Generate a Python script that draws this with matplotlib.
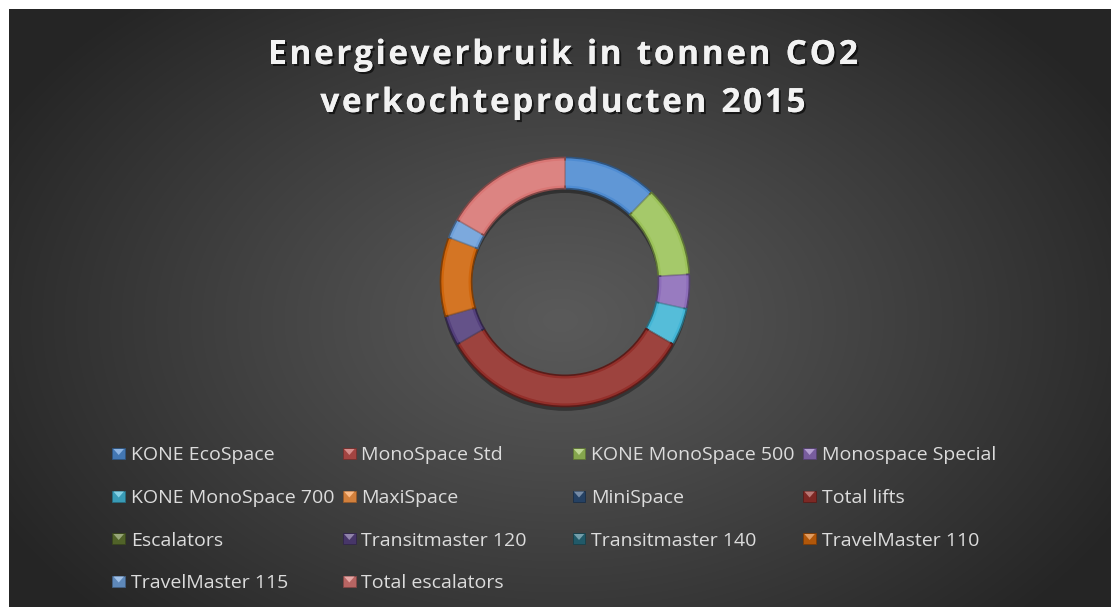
import numpy as np
import matplotlib
matplotlib.use("Agg")
import matplotlib.pyplot as plt
from matplotlib.patches import Rectangle, Polygon
import matplotlib.patheffects as pe
from matplotlib.colors import to_rgb

# ---- data ----
labels = ["KONE EcoSpace", "MonoSpace Std", "KONE MonoSpace 500", "Monospace Special",
          "KONE MonoSpace 700", "MaxiSpace", "MiniSpace", "Total lifts",
          "Escalators", "Transitmaster 120", "Transitmaster 140", "TravelMaster 110",
          "TravelMaster 115", "Total escalators"]
values = [44, 0, 42.5, 16, 17.5, 0, 0, 120, 0, 14, 0, 37, 9, 60]
colors = ["#4F8CD2", "#C0504D", "#9CC35A", "#8D6DBA", "#43B6D6", "#F79646", "#2C4D75",
          "#932F2A", "#5F7530", "#54407C", "#276A7C", "#D0660C", "#6EA0DA", "#D97775"]
title_lines = ["Energieverbruik in tonnen CO2", "verkochteproducten 2015"]

W, H = 1111, 607
fig = plt.figure(figsize=(W / 100, H / 100), dpi=100)
fig.patch.set_facecolor("white")

# ---- background panel with radial gradient ----
px0, py0 = 9, 9
bg = fig.add_axes([px0 / W, 0, 1 - px0 / W, 1 - py0 / H])
bg.set_axis_off()
yy, xx = np.mgrid[0:H - py0, 0:W - px0]
cx, cy = 560 - px0, 320 - py0
r = np.sqrt(((xx - cx) / 640.0) ** 2 + ((yy - cy) / 430.0) ** 2)
r = np.clip(r, 0, 1)
c_in, c_out = 0x5A / 255, 0x25 / 255
img = c_in + (c_out - c_in) * r ** 1.1
bg.imshow(np.dstack([img, img, img]), aspect="auto", extent=(0, 1, 0, 1), origin="upper")
bg.set_xlim(0, 1)
bg.set_ylim(0, 1)

# ---- donut ----
ccx, ccy, R = 565, 282, 124.5
L = 135
ax = fig.add_axes([(ccx - L) / W, 1 - (ccy + L) / H, 2 * L / W, 2 * L / H])
ax.set_axis_off()


def darker(c, f=0.75):
    r_, g_, b_ = to_rgb(c)
    return (r_ * f, g_ * f, b_ * f)


def lighter(c, f=0.35):
    r_, g_, b_ = to_rgb(c)
    return (r_ + (1 - r_) * f, g_ + (1 - g_) * f, b_ + (1 - b_) * f)


# shadow
shadow, _ = ax.pie([1], radius=1.0, colors=["black"], startangle=90, counterclock=False,
                   wedgeprops=dict(width=0.25, linewidth=0), center=(0.0, -0.035))
for s in shadow:
    s.set_alpha(0.35)

wedges, _ = ax.pie(values, radius=1.0, colors=colors, startangle=90, counterclock=False,
                   wedgeprops=dict(width=0.25, linewidth=1.2))
for w, c in zip(wedges, colors):
    w.set_edgecolor(darker(c, 0.6))
# bevel highlight band
hl, _ = ax.pie(values, radius=0.975, colors=[lighter(c, 0.18) for c in colors], startangle=90,
               counterclock=False, wedgeprops=dict(width=0.2, linewidth=0))
for w in hl:
    w.set_alpha(0.55)
ax.set_aspect("auto")
ax.set_xlim(-L / R, L / R)
ax.set_ylim(-L / R, L / R)

# ---- overlay in pixel coords ----
ov = fig.add_axes([0, 0, 1, 1])
ov.set_xlim(0, W)
ov.set_ylim(H, 0)
ov.set_axis_off()
ov.patch.set_alpha(0)

renderer = fig.canvas.get_renderer()
title_fx = [pe.withSimplePatchShadow(offset=(1.5, -1.5), shadow_rgbFace="black", alpha=0.6), pe.Normal()]
title_kw = dict(fontsize=24, fontweight="bold", family="Open Sans", color="#F2F2F2")
track = 2.6
for line, base_y in zip(title_lines, [64, 112]):
    widths = []
    for ch in line:
        t = ov.text(0, 0, ch if ch != " " else "n", **title_kw)
        bb = t.get_window_extent(renderer)
        w_ = bb.width if ch != " " else bb.width * 0.45
        widths.append(w_)
        t.remove()
    total = sum(widths) + track * (len(line) - 1)
    x = 563 - total / 2
    for ch, w_ in zip(line, widths):
        if ch != " ":
            ov.text(x, base_y, ch, ha="left", va="baseline", path_effects=title_fx, **title_kw)
        x += w_ + track

# legend (row-wise, 4 columns)
col_x = [118.7, 349.3, 579.0, 809.6]
row_y = [453.5, 496.0, 538.5, 581.0]
mw, mh = 12.5, 11
for i, (lab, c) in enumerate(zip(labels, colors)):
    rr, cc = divmod(i, 4)
    mx, my = col_x[cc], row_y[rr]
    ov.add_patch(Rectangle((mx - mw / 2, my - mh / 2), mw, mh, facecolor=darker(c, 0.85),
                           edgecolor=darker(c, 0.6), linewidth=0.6))
    ov.add_patch(Polygon([(mx - mw / 2 + 1, my - mh / 2 + 1), (mx + mw / 2 - 1, my - mh / 2 + 1), (mx, my + 1.5)],
                         closed=True, facecolor=lighter(c, 0.35), linewidth=0))
    ov.text(mx + 12, my + 7, lab, ha="left", va="baseline", fontsize=14,
            family="Open Sans", color="#DCDCDC")

fig.savefig("out.png", dpi=100, facecolor=fig.get_facecolor())
